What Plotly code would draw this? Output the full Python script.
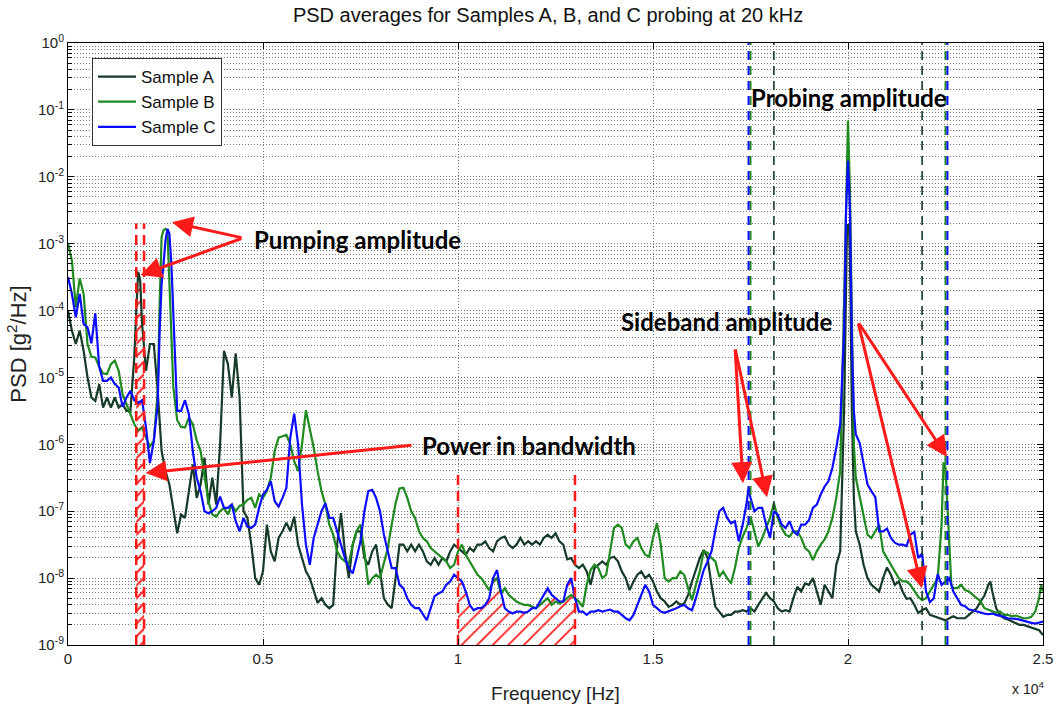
import numpy as np
import plotly.graph_objects as go

# ---------------- data (log10 of PSD in g^2/Hz) ----------------
freq_grid = list(range(0, 25001, 100))  # Hz

log_a = [
    -4.0, -4.3, -4.5, -4.3, -4.6, -5.0, -5.3, -5.35, -5.1, -5.45,
    -5.3, -5.45, -5.3, -5.45, -5.4, -5.5, -5.5, -4.7, -3.42, -4.2,
    -4.9, -4.5, -4.5, -5.2, -6.1, -6.4, -6.6, -7.0, -7.33, -7.05,
    -7.1, -6.7, -6.3, -6.8, -6.6, -6.2, -6.9, -6.5, -6.9, -6.0,
    -4.6, -4.8, -5.3, -4.64, -5.3, -7.0, -7.1, -7.5, -8.0, -8.1,
    -7.9, -7.2, -7.6, -7.75, -7.4, -7.3, -7.17, -7.3, -7.08, -7.5,
    -7.7, -7.9, -8.0, -8.2, -8.37, -8.3, -8.4, -8.45, -8.4, -7.5,
    -7.03, -7.6, -8.0, -7.5, -7.3, -7.3, -7.7, -7.8, -7.6, -7.5,
    -7.9, -8.3, -8.4, -8.45, -8.0, -7.5, -7.5, -7.6, -7.5, -7.6,
    -7.5, -7.6, -7.75, -7.8, -7.7, -7.8, -7.7, -7.75, -7.6, -7.5,
    -7.55, -7.6, -7.65, -7.55, -7.6, -7.5, -7.5, -7.45, -7.55, -7.6,
    -7.45, -7.4, -7.38, -7.5, -7.55, -7.5, -7.4, -7.5, -7.45, -7.5,
    -7.45, -7.5, -7.4, -7.35, -7.4, -7.33, -7.45, -7.5, -7.72, -7.7,
    -7.8, -7.85, -7.8, -7.9, -8.1, -7.85, -7.8, -7.75, -7.8, -7.7,
    -7.68, -7.75, -7.9, -8.0, -8.18, -8.05, -7.95, -7.9, -8.0, -7.95,
    -8.05, -8.2, -8.3, -8.35, -8.43, -8.4, -8.35, -8.4, -8.38, -8.25,
    -8.05, -7.88, -7.7, -7.58, -7.7, -8.1, -8.43, -8.5, -8.58, -8.55,
    -8.55, -8.5, -8.5, -8.48, -8.5, -8.45, -8.5, -8.4, -8.3, -8.22,
    -8.3, -8.35, -8.45, -8.5, -8.48, -8.5, -8.3, -8.13, -8.2, -8.08,
    -8.1, -8.0, -8.2, -8.4, -8.1, -8.2, -8.3, -7.8, -7.6, -5.5,
    -2.71, -5.5, -7.3, -7.5, -7.8, -8.0, -8.1, -8.15, -8.2, -8.0,
    -7.84, -7.95, -8.1, -8.05, -8.2, -8.31, -8.3, -8.4, -8.52, -8.48,
    -8.45, -8.55, -8.57, -8.6, -8.62, -8.63, -8.6, -8.57, -8.6, -8.6,
    -8.6, -8.55, -8.5, -8.45, -8.35, -8.26, -8.1, -8.2, -8.45, -8.55,
    -8.6, -8.62, -8.65, -8.68, -8.7, -8.7, -8.72, -8.73, -8.75, -8.78,
    -8.85,
]
extra_f_a = [1750, 1850, 19950, 19975, 20025, 20050, 20150, 23650]
extra_a = [-4.0, -3.55, -3.5, -2.75, -2.75, -3.2, -6.8, -8.05]

log_b = [
    -3.0, -3.25, -3.95, -3.52, -3.75, -4.5, -4.69, -4.7, -4.84, -4.94,
    -4.95, -4.8, -4.75, -4.9, -5.25, -5.4, -5.55, -5.7, -5.79, -5.75,
    -5.9, -6.03, -5.95, -5.2, -2.9, -2.78, -3.5, -5.14, -5.64, -5.74,
    -5.75, -5.6, -5.7, -5.94, -6.1, -6.5, -6.85, -7.05, -7.08, -7.0,
    -6.95, -7.05, -6.9, -7.0, -6.92, -6.9, -6.83, -6.8, -6.95, -6.75,
    -6.8, -6.7, -6.5, -6.1, -5.9, -5.88, -5.86, -6.0, -6.25, -6.4,
    -6.0, -5.49, -5.75, -6.05, -6.4, -6.7, -6.9, -7.2, -7.35, -7.6,
    -7.7, -7.75, -7.78, -7.5, -7.3, -7.2, -7.6, -8.1, -8.0, -7.95,
    -8.0, -7.78, -7.55, -7.2, -6.88, -6.66, -6.65, -6.8, -7.0, -7.1,
    -7.3, -7.4, -7.45, -7.55, -7.6, -7.65, -7.7, -7.75, -7.85, -7.8,
    -7.6, -7.5, -7.65, -7.75, -7.85, -7.95, -8.0, -8.1, -8.18, -8.05,
    -8.0, -8.23, -8.15, -8.25, -8.3, -8.35, -8.38, -8.4, -8.4, -8.42,
    -8.45, -8.4, -8.35, -8.3, -8.4, -8.35, -8.38, -8.35, -8.3, -8.25,
    -8.3, -8.35, -8.43, -8.1, -7.88, -7.8, -7.85, -8.0, -7.95, -7.6,
    -7.25, -7.2, -7.25, -7.5, -7.55, -7.45, -7.4, -7.55, -7.65, -7.68,
    -7.4, -7.18, -7.5, -8.0, -8.05, -8.0, -8.0, -7.9, -7.95, -8.15,
    -8.33, -8.1, -7.9, -7.6, -7.62, -7.7, -7.75, -7.98, -7.9, -8.0,
    -8.08, -7.85, -7.55, -7.38, -7.25, -7.08, -7.3, -7.53, -7.4, -7.25,
    -7.1, -6.88, -7.1, -7.25, -7.35, -7.38, -7.3, -7.3, -7.4, -7.55,
    -7.6, -7.73, -7.6, -7.5, -7.42, -7.3, -7.1, -6.8, -6.4, -3.8,
    -1.16, -4.5, -6.5, -6.8, -7.1, -7.35, -7.4, -7.3, -7.2, -7.6,
    -7.7, -7.8, -7.9, -8.0, -8.05, -8.05, -8.1, -8.2, -8.28, -8.33,
    -8.3, -8.2, -8.1, -8.0, -7.2, -6.35, -7.4, -8.15, -8.15, -8.1,
    -8.18, -8.2, -8.25, -8.3, -8.35, -8.45, -8.47, -8.5, -8.52, -8.5,
    -8.55, -8.55, -8.57, -8.56, -8.58, -8.6, -8.6, -8.58, -8.5, -8.3,
    -8.2,
]
extra_f_b = [2350, 2450, 2550, 2650, 19850, 19950, 20050, 20150, 22450, 22650, 24950]
extra_b = [-3.9, -2.8, -2.8, -4.4, -5.2, -2.2, -2.2, -6.0, -6.27, -8.1, -8.1]

log_c = [
    -3.5, -3.75, -4.1, -3.75, -4.2, -4.25, -4.49, -4.04, -4.84, -5.05,
    -5.05, -5.0, -5.1, -5.15, -5.44, -5.3, -5.2, -5.34, -5.38, -5.34,
    -5.75, -6.28, -5.95, -5.4, -3.6, -2.95, -2.85, -4.09, -5.5, -5.5,
    -5.34, -5.55, -6.1, -6.5, -6.7, -7.0, -7.03, -7.0, -6.95, -6.78,
    -6.95, -6.95, -6.9, -7.15, -7.3, -7.1, -7.23, -7.25, -7.2, -6.95,
    -6.75, -6.68, -6.55, -6.85, -6.93, -6.8, -6.65, -5.9, -5.54, -6.0,
    -6.9, -7.5, -7.8, -7.4, -7.2, -7.0, -6.88, -7.1, -7.1, -7.3,
    -7.5, -7.7, -7.85, -7.93, -7.7, -7.45, -7.0, -6.7, -6.68, -6.8,
    -7.0, -7.35, -7.6, -7.85, -7.85, -8.1, -8.15, -8.3, -8.4, -8.45,
    -8.45, -8.55, -8.63, -8.45, -8.27, -8.23, -8.2, -8.1, -8.05, -7.95,
    -8.0, -8.05, -8.2, -8.4, -8.48, -8.45, -8.45, -8.4, -8.3, -8.0,
    -7.88, -8.2, -8.45, -8.5, -8.53, -8.5, -8.5, -8.52, -8.5, -8.45,
    -8.45, -8.35, -8.25, -8.15, -8.25, -8.3, -8.35, -8.35, -8.1, -8.0,
    -8.3, -8.5, -8.5, -8.55, -8.5, -8.5, -8.48, -8.5, -8.48, -8.47,
    -8.5, -8.5, -8.55, -8.6, -8.63, -8.55, -8.4, -8.25, -8.1, -8.2,
    -8.4, -8.45, -8.5, -8.52, -8.5, -8.48, -8.45, -8.42, -8.4, -8.45,
    -8.48, -8.3, -8.08, -7.88, -7.75, -7.6, -7.28, -7.0, -6.95, -7.1,
    -7.18, -7.15, -7.45, -7.2, -6.88, -6.8, -7.0, -6.95, -6.95, -7.2,
    -7.4, -7.0, -7.05, -7.2, -7.25, -7.15, -7.3, -7.35, -7.2, -7.2,
    -7.13, -6.95, -6.9, -6.75, -6.63, -6.55, -6.35, -6.05, -5.7, -4.3,
    -1.76, -4.5, -5.85, -5.98, -6.27, -6.6, -6.7, -6.79, -7.3, -7.3,
    -7.26, -7.4, -7.47, -7.5, -7.5, -7.52, -7.35, -7.31, -7.7, -7.63,
    -8.2, -8.36, -8.3, -7.94, -8.1, -8.05, -8.0, -8.2, -8.31, -8.4,
    -8.42, -8.47, -8.48, -8.5, -8.52, -8.53, -8.54, -8.53, -8.55, -8.56,
    -8.58, -8.6, -8.6, -8.61, -8.62, -8.64, -8.66, -8.67, -8.68, -8.67,
    -8.65,
]
extra_f_c = [2350, 2450, 2550, 2650, 17450, 19850, 19950, 20050, 20150]
extra_c = [-4.3, -3.3, -2.78, -3.3, -6.66, -5.0, -2.5, -2.5, -5.5]

series_names = ["Sample A", "Sample B", "Sample C"]

# band / marker frequencies (Hz)
pump_band = [1750, 1950]
pump_band_top = 2e-3
power_band = [10000, 13000]
power_band_top = 4.2e-7
sideband_a = [18100, 21900]
sideband_b = [17500, 22500]
sideband_c = [17450, 22550]

x_tick_vals = [0, 5000, 10000, 15000, 20000, 25000]
x_tick_text = ["0", "0.5", "1", "1.5", "2", "2.5"]
y_exponents = list(range(-9, 1))

# ---------------- styling ----------------
col_a = "#163a28"
col_b = "#1f8a1f"
col_c = "#0b0bff"
red = "#ff1a1a"
FONT = "Liberation Sans"


def merge(base, ef, ev):
    pts = sorted(list(zip(freq_grid, base)) + list(zip(ef, ev)))
    f = np.array([p[0] for p in pts], dtype=float)
    v = 10.0 ** np.array([p[1] for p in pts])
    return f, v


fa, va = merge(log_a, extra_f_a, extra_a)
fb, vb = merge(log_b, extra_f_b, extra_b)
fc, vc = merge(log_c, extra_f_c, extra_c)

fig = go.Figure()


def hatch(f, v, band, size, solidity):
    lo, hi = band
    m = (f > lo) & (f < hi)
    xs = [lo] + list(f[m]) + [hi]
    ys = [float(10 ** np.interp(lo, f, np.log10(v)))] + list(v[m]) + \
         [float(10 ** np.interp(hi, f, np.log10(v)))]
    xs = xs + [hi, lo, lo]
    ys = ys + [1e-9, 1e-9, ys[0]]
    fig.add_trace(go.Scatter(
        x=xs, y=ys, mode="lines", fill="toself", line=dict(width=0, color=red),
        fillcolor="rgba(0,0,0,0)",
        fillpattern=dict(shape="/", fgcolor=red, fgopacity=1, size=size,
                         solidity=solidity),
        showlegend=False, hoverinfo="skip"))


hatch(fa, va, pump_band, 9, 0.22)
hatch(fc, vc, power_band, 11, 0.16)

for name, f, v, col in [(series_names[0], fa, va, col_a),
                        (series_names[1], fb, vb, col_b),
                        (series_names[2], fc, vc, col_c)]:
    fig.add_trace(go.Scatter(x=f, y=v, mode="lines", name=name,
                             line=dict(color=col, width=2.2)))


def vlines(xs, top, color, width, dash):
    X, Y = [], []
    for x in xs:
        X += [x, x, None]
        Y += [1e-9, top, None]
    fig.add_trace(go.Scatter(x=X, y=Y, mode="lines", showlegend=False,
                             hoverinfo="skip",
                             line=dict(color=color, width=width, dash=dash)))


vlines(sideband_a, 1.0, col_a, 1.6, "9px,6px")
vlines(sideband_b, 1.0, col_b, 2, "9px,6px")
vlines(sideband_c, 1.0, col_c, 2, "9px,6px")
vlines(pump_band, pump_band_top, red, 2.5, "10px,6px")
vlines(power_band, power_band_top, red, 2.5, "10px,6px")

# ---------------- annotations ----------------
lab_font = dict(family="Lato", size=24, color="black")
texts = [
    ("<b>Pumping amplitude</b>", 4720, -2.94),
    ("<b>Probing amplitude</b>", 17470, -0.81),
    ("<b>Sideband amplitude</b>", 14130, -4.17),
    ("<b>Power in bandwidth</b>", 9030, -6.02),
]
for t, x, y in texts:
    fig.add_annotation(x=x, y=y, xref="x", yref="y", text=t, showarrow=False,
                       xanchor="left", yanchor="middle", font=lab_font)

arrows = [
    ((4487, -2.915), (2667, -2.68)),
    ((4487, -2.915), (1860, -3.47)),
    ((8846, -6.01), (1990, -6.43)),
    ((17103, -4.56), (17308, -6.58)),
    ((17103, -4.56), (17923, -6.79)),
    ((20256, -4.17), (22538, -6.19)),
    ((20256, -4.17), (21897, -8.15)),
]
for (tx, ty), (hx, hy) in arrows:
    fig.add_annotation(x=hx, y=hy, ax=tx, ay=ty, xref="x", yref="y",
                       axref="x", ayref="y", text="", showarrow=True,
                       arrowhead=2, arrowsize=1.4, arrowwidth=3,
                       arrowcolor=red, standoff=0, startstandoff=0)

fig.add_annotation(x=1.003, y=-0.072, xref="paper", yref="paper",
                   text="x 10<sup>4</sup>", showarrow=False,
                   xanchor="right", yanchor="middle",
                   font=dict(family=FONT, size=14, color="#222"))

grid_col = "#7a7a7a"
grid_dash = "1px,2px"
minor_vals = [k * 10.0 ** e for e in range(-9, 0) for k in range(2, 10)]

fig.update_layout(
    width=1056, height=707,
    margin=dict(l=68, r=13, t=43, b=62, autoexpand=False),
    paper_bgcolor="white", plot_bgcolor="white",
    font=dict(family=FONT, size=15, color="#222"),
    title=dict(text="PSD averages for Samples A, B, and C probing at 20 kHz",
               x=0.519, xanchor="center", y=0.979, yanchor="middle",
               font=dict(family=FONT, size=20, color="#111")),
    legend=dict(x=0.0246, y=0.975, xanchor="left", yanchor="top",
                bgcolor="white", bordercolor="#333", borderwidth=1,
                font=dict(family=FONT, size=17, color="#111"),
                itemwidth=38, tracegroupgap=0),
    showlegend=True,
)

fig.update_xaxes(
    range=[0, 25000], tickmode="array", tickvals=x_tick_vals, ticktext=x_tick_text,
    showline=True, linecolor="black", linewidth=1, mirror="allticks",
    ticks="inside", ticklen=6, tickcolor="black",
    showgrid=True, gridcolor=grid_col, griddash=grid_dash, gridwidth=1,
    zeroline=False, tickfont=dict(size=15), automargin=False,
    title=dict(text="Frequency [Hz]", font=dict(size=19, color="#222"), standoff=20),
)
fig.update_yaxes(
    type="log", range=[-9, 0], tickmode="array",
    tickvals=[10.0 ** e for e in y_exponents],
    ticktext=["10<sup>%d</sup>" % e for e in y_exponents],
    showline=True, linecolor="black", linewidth=1, mirror="allticks",
    ticks="inside", ticklen=6, tickcolor="black",
    showgrid=True, gridcolor=grid_col, griddash=grid_dash, gridwidth=1,
    minor=dict(tickmode="array", tickvals=minor_vals, ticks="inside", ticklen=4,
               tickcolor="black", showgrid=True, gridcolor=grid_col,
               griddash=grid_dash, gridwidth=1),
    zeroline=False, tickfont=dict(size=15), automargin=False,
    title=dict(text="PSD [g<sup>2</sup>/Hz]", font=dict(size=22, color="#222"), standoff=5),
)

fig.write_html("out.html",
               config={"displayModeBar": False},
               post_script="document.body.style.margin='0px';"
                           "document.body.style.overflow='hidden';")
